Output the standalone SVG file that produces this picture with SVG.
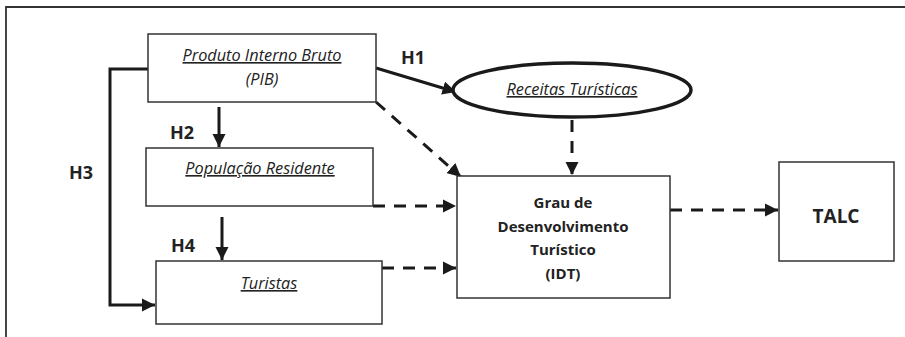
<svg xmlns="http://www.w3.org/2000/svg" width="905" height="337" viewBox="0 0 905 337">
<style>
.box{fill:#fff;stroke:#333;stroke-width:1.5}
.it{font-family:"Open Sans","Liberation Sans",sans-serif;font-style:italic;font-size:16.3px;fill:#222;text-anchor:middle}
.u{text-decoration:underline}
.b{font-family:"Open Sans","Liberation Sans",sans-serif;font-weight:bold;font-size:15px;fill:#222;text-anchor:middle}
.big{font-size:19px}
.h{font-family:"Open Sans","Liberation Sans",sans-serif;font-weight:bold;font-size:18px;fill:#222}
.solid{fill:none;stroke:#1a1a1a;stroke-width:3}
.dash{fill:none;stroke:#1a1a1a;stroke-width:3;stroke-dasharray:12 9}
</style>
<defs>
<marker id="ah" viewBox="0 0 10 10" refX="10" refY="5" markerWidth="4.5" markerHeight="4.5" orient="auto" markerUnits="strokeWidth">
<path d="M0,0 L10,5 L0,10 z" fill="#1a1a1a"/>
</marker>
</defs>
<g id="frame">
<path d="M6,337 V7 H905" fill="none" stroke="#333" stroke-width="1.8"/>
</g>
<g id="connectors">
<line class="solid" x1="376" y1="68" x2="456" y2="92" marker-end="url(#ah)"/>
<line class="solid" x1="219" y1="107" x2="219" y2="147" marker-end="url(#ah)"/>
<path class="solid" d="M148,69 H110 V305 H155" stroke-width="3.5" marker-end="url(#ah)"/>
<line class="solid" x1="222" y1="217" x2="222" y2="260" stroke-width="2.5" marker-end="url(#ah)"/>
<line class="dash" x1="376" y1="102" x2="461" y2="177" marker-end="url(#ah)"/>
<line class="dash" x1="572" y1="120" x2="572" y2="175" marker-end="url(#ah)"/>
<line class="dash" x1="373" y1="206" x2="456" y2="206" marker-end="url(#ah)"/>
<line class="dash" x1="382" y1="268" x2="456" y2="268" marker-end="url(#ah)"/>
<line class="dash" x1="670" y1="210" x2="778" y2="210" marker-end="url(#ah)"/>
<text class="h" x="401" y="64">H1</text>
<text class="h" x="170" y="139">H2</text>
<text class="h" x="69" y="179">H3</text>
<text class="h" x="171" y="252">H4</text>
</g>
<g id="pib">
<rect class="box" x="148" y="34" width="228" height="68"/>
<text class="it u" x="262" y="61">Produto Interno Bruto</text>
<text class="it" x="262" y="85">(PIB)</text>
</g>
<g id="receitas">
<ellipse cx="572" cy="90" rx="119" ry="27" fill="#fff" stroke="#1a1a1a" stroke-width="3.5"/>
<text class="it u" x="572" y="95">Receitas Turísticas</text>
</g>
<g id="populacao">
<rect class="box" x="146" y="148" width="227" height="58"/>
<text class="it u" x="260" y="174">População Residente</text>
</g>
<g id="turistas">
<rect class="box" x="156" y="261" width="226" height="63"/>
<text class="it u" x="269" y="289">Turistas</text>
</g>
<g id="idt">
<rect class="box" x="457" y="176" width="213" height="122"/>
<text class="b" x="563" y="208">Grau de</text>
<text class="b" x="563" y="232">Desenvolvimento</text>
<text class="b" x="563" y="255">Turístico</text>
<text class="b" x="563" y="279">(IDT)</text>
</g>
<g id="talc">
<rect class="box" x="779" y="162" width="115" height="99"/>
<text class="b big" x="836" y="223">TALC</text>
</g>
</svg>
